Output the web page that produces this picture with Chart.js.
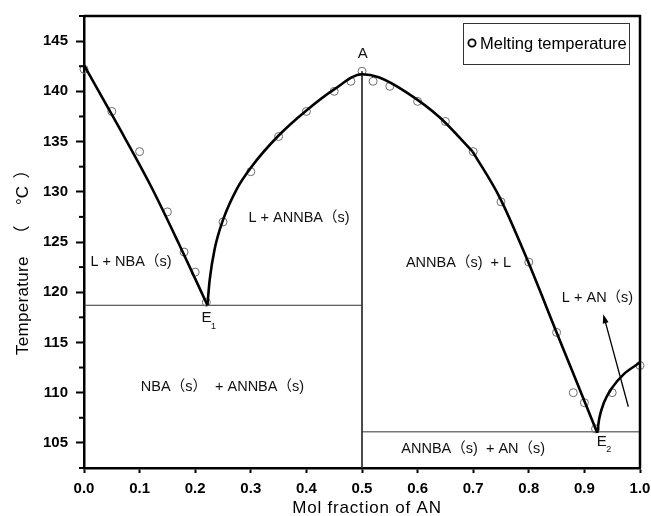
<!DOCTYPE html>
<html>
<head>
<meta charset="utf-8">
<script src="https://cdn.jsdelivr.net/npm/chart.js@4.4.1/dist/chart.umd.min.js"></script>
<style>
  html, body { margin: 0; padding: 0; background: #fff; }
  #marco { width: 651px; height: 516px; }
</style>
</head>
<body>
<div id="marco"><canvas id="grafico" width="651" height="516"></canvas></div>
<script>
// puntos de fusion medidos
const fraccionAN = [0, 0.05, 0.10, 0.15, 0.18, 0.20, 0.22, 0.25, 0.30, 0.35, 0.40, 0.45, 0.48, 0.50,
  0.52, 0.55, 0.60, 0.65, 0.70, 0.75, 0.80, 0.85, 0.88, 0.90, 0.92, 0.95, 1.00];
const tempFusion = [142.2, 138.0, 134.0, 128.0, 124.0, 122.0, 119.0, 127.0, 132.0, 135.5, 138.0, 140.0, 141.0, 142.0,
  141.0, 140.5, 139.0, 137.0, 134.0, 129.0, 123.0, 116.0, 110.0, 109.0, 106.4, 110.0, 112.7];

// curvas de liquidus ajustadas
const liqNBA_x = [0, 0.06, 0.12, 0.17, 0.222];
const liqNBA_t = [142.6, 136.7, 130.6, 124.9, 118.7];
const liqANNBA_x = [0.222, 0.226, 0.235, 0.25, 0.275, 0.30, 0.35, 0.40, 0.45, 0.50, 0.53, 0.58, 0.64, 0.699];
const liqANNBA_t = [118.7, 121.2, 124.3, 127.2, 130.3, 132.4, 135.6, 138.1, 140.2, 141.7, 141.4, 139.9, 137.4, 134.0];
const liqANNBA2_x = [0.699, 0.748, 0.796, 0.85, 0.88, 0.923];
const liqANNBA2_t = [134.0, 129.4, 123.4, 116.0, 111.9, 106.0];
const liqAN_x = [0.923, 0.927, 0.935, 0.95, 0.97, 1.0];
const liqAN_t = [106.0, 107.5, 109.0, 110.5, 111.8, 113.0];

// lineas eutecticas y composicion congruente
const lineaE1_x = [0, 0.5];
const lineaE1_t = [118.7, 118.7];
const lineaA_x = [0.5, 0.5];
const lineaA_t = [142.0, 102.5];
const lineaE2_x = [0.5, 1.0];
const lineaE2_t = [106.1, 106.1];

// flecha hacia la region L + AN(s)
const flecha_x = [0.979, 0.934];
const flecha_t = [108.6, 117.8];

// ejes
const ticksX = [0, 0.1, 0.2, 0.3, 0.4, 0.5, 0.6, 0.7, 0.8, 0.9, 1.0];
const ticksY = [105, 110, 115, 120, 125, 130, 135, 140, 145];
const menoresY = [102.5, 107.5, 112.5, 117.5, 122.5, 127.5, 132.5, 137.5, 142.5, 147.5];

// rotulos de regiones
const rotulos = [
  { texto: 'L + NBA（s)', x: 0.0845, t: 123.0 },
  { texto: 'L + ANNBA（s)', x: 0.3867, t: 127.4 },
  { texto: 'NBA（s）  + ANNBA（s)', x: 0.249, t: 110.6 },
  { texto: 'ANNBA（s)  + L', x: 0.6736, t: 122.9 },
  { texto: 'L + AN（s)', x: 0.9236, t: 119.4 },
  { texto: 'ANNBA（s)  + AN（s)', x: 0.700, t: 104.4 }
];
const puntosNombre = [
  { letra: 'A', sub: '', x: 0.5012, t: 143.7 },
  { letra: 'E', sub: '1', x: 0.2205, t: 117.4 },
  { letra: 'E', sub: '2', x: 0.931, t: 105.1 }
];

const FUENTE = '"Liberation Sans", Arial, "Noto Sans CJK SC", sans-serif';

function pares(xs, ts) {
  return xs.map((x, i) => ({ x: x, y: ts[i] }));
}

function curva(xs, ts) {
  return {
    data: pares(xs, ts), showLine: true, borderColor: '#000', borderWidth: 2.6,
    pointRadius: 0, cubicInterpolationMode: 'monotone', order: 1, clip: false
  };
}

function recta(xs, ts) {
  return {
    data: pares(xs, ts), showLine: true, borderColor: '#333', borderWidth: 1,
    pointRadius: 0, order: 3
  };
}

const esMayorY = v => ticksY.some(m => Math.abs(m - v) < 1e-6);

const decorado = {
  id: 'decorado',
  afterDraw(chart) {
    const { ctx, chartArea: a, scales: { x, y } } = chart;
    ctx.save();

    // marco superior y derecho
    ctx.strokeStyle = '#000';
    ctx.lineWidth = 2.5;
    ctx.beginPath();
    ctx.moveTo(a.left, a.top);
    ctx.lineTo(a.right, a.top);
    ctx.lineTo(a.right, a.bottom);
    ctx.stroke();

    // marcas menores del eje y
    ctx.lineWidth = 2;
    menoresY.forEach(v => {
      const py = y.getPixelForValue(v);
      ctx.beginPath();
      ctx.moveTo(a.left - 5, py);
      ctx.lineTo(a.left, py);
      ctx.stroke();
    });

    // flecha
    const x0 = x.getPixelForValue(flecha_x[0]), y0 = y.getPixelForValue(flecha_t[0]);
    const x1 = x.getPixelForValue(flecha_x[1]), y1 = y.getPixelForValue(flecha_t[1]);
    const ang = Math.atan2(y1 - y0, x1 - x0);
    ctx.lineWidth = 1.3;
    ctx.beginPath();
    ctx.moveTo(x0, y0);
    ctx.lineTo(x1 - 6 * Math.cos(ang), y1 - 6 * Math.sin(ang));
    ctx.stroke();
    ctx.fillStyle = '#000';
    ctx.beginPath();
    ctx.moveTo(x1, y1);
    ctx.lineTo(x1 - 9 * Math.cos(ang) + 3 * Math.sin(ang), y1 - 9 * Math.sin(ang) - 3 * Math.cos(ang));
    ctx.lineTo(x1 - 9 * Math.cos(ang) - 3 * Math.sin(ang), y1 - 9 * Math.sin(ang) + 3 * Math.cos(ang));
    ctx.closePath();
    ctx.fill();

    // rotulos de regiones
    ctx.fillStyle = '#111';
    ctx.font = '14.5px ' + FUENTE;
    ctx.textAlign = 'center';
    ctx.textBaseline = 'middle';
    rotulos.forEach(r => {
      ctx.fillText(r.texto, x.getPixelForValue(r.x), y.getPixelForValue(r.t));
    });

    // puntos A, E1, E2
    puntosNombre.forEach(p => {
      const px = x.getPixelForValue(p.x), py = y.getPixelForValue(p.t);
      ctx.font = '15px ' + FUENTE;
      ctx.textAlign = 'center';
      ctx.fillText(p.letra, px, py);
      if (p.sub) {
        ctx.font = '9px ' + FUENTE;
        ctx.fillText(p.sub, px + 7, py + 8);
      }
    });

    // leyenda
    const lx = a.right - 177, ly = a.top + 7;
    ctx.lineWidth = 1;
    ctx.strokeStyle = '#333';
    ctx.strokeRect(lx + 0.5, ly + 0.5, 166, 41);
    ctx.lineWidth = 1.8;
    ctx.strokeStyle = '#000';
    ctx.beginPath();
    ctx.arc(lx + 9, ly + 20, 3.6, 0, Math.PI * 2);
    ctx.stroke();
    ctx.font = '16.5px ' + FUENTE;
    ctx.textAlign = 'left';
    ctx.fillStyle = '#000';
    ctx.fillText(chart.data.datasets[0].label, lx + 17, ly + 21);

    // titulo eje x
    ctx.font = '17px ' + FUENTE;
    ctx.textAlign = 'center';
    ctx.textBaseline = 'alphabetic';
    ctx.letterSpacing = '0.8px';
    ctx.fillText('Mol fraction of AN', (a.left + a.right) / 2 + 5, 513);

    // titulo eje y, girado
    ctx.letterSpacing = '0.3px';
    ctx.translate(28, 0);
    ctx.rotate(-Math.PI / 2);
    ctx.textAlign = 'left';
    ctx.fillText('Temperature', -355, 0);
    ctx.letterSpacing = '0px';
    ctx.textAlign = 'center';
    ctx.fillText('（', -234, 0);
    ctx.textAlign = 'left';
    ctx.fillText('°C', -205, 0);
    ctx.textAlign = 'center';
    ctx.fillText('）', -170, 0);

    ctx.restore();
  }
};

new Chart(document.getElementById('grafico').getContext('2d'), {
  type: 'line',
  data: {
    datasets: [
      {
        label: 'Melting temperature',
        data: pares(fraccionAN, tempFusion),
        showLine: false,
        pointStyle: 'circle',
        pointRadius: 4,
        pointBorderWidth: 1,
        pointBorderColor: '#6e6e6e',
        pointBackgroundColor: 'rgba(0,0,0,0)',
        order: 2,
        clip: false
      },
      curva(liqNBA_x, liqNBA_t),
      curva(liqANNBA_x, liqANNBA_t),
      curva(liqANNBA2_x, liqANNBA2_t),
      curva(liqAN_x, liqAN_t),
      recta(lineaE1_x, lineaE1_t),
      recta(lineaA_x, lineaA_t),
      recta(lineaE2_x, lineaE2_t)
    ]
  },
  options: {
    responsive: false,
    animation: false,
    layout: { padding: { top: 16, right: 11, left: 0, bottom: 0 } },
    plugins: { legend: { display: false }, tooltip: { enabled: false } },
    scales: {
      x: {
        type: 'linear',
        min: 0,
        max: 1,
        afterFit: s => { s.height = 48; s.paddingLeft = 0; s.paddingRight = 0; },
        afterBuildTicks: s => { s.ticks = ticksX.map(v => ({ value: v })); },
        ticks: {
          autoSkip: false,
          maxRotation: 0,
          padding: 7,
          color: '#000',
          font: { family: FUENTE, size: 15, weight: 'bold' },
          callback: v => v.toFixed(1)
        },
        grid: { drawOnChartArea: false, tickLength: 5, tickWidth: 2, tickColor: '#000' },
        border: { color: '#000', width: 2.5 }
      },
      y: {
        type: 'linear',
        min: 102.5,
        max: 147.5,
        afterFit: s => { s.width = 84; s.paddingTop = 0; s.paddingBottom = 0; },
        afterBuildTicks: s => { s.ticks = ticksY.map(v => ({ value: v })); },
        ticks: {
          autoSkip: false,
          padding: 8,
          color: '#000',
          font: { family: FUENTE, size: 15, weight: 'bold' },
          callback: v => (esMayorY(v) ? String(v) : '')
        },
        grid: { drawOnChartArea: false, tickLength: 8, tickWidth: 2, tickColor: '#000' },
        border: { color: '#000', width: 2.5 }
      }
    }
  },
  plugins: [decorado]
});
</script>
</body>
</html>
